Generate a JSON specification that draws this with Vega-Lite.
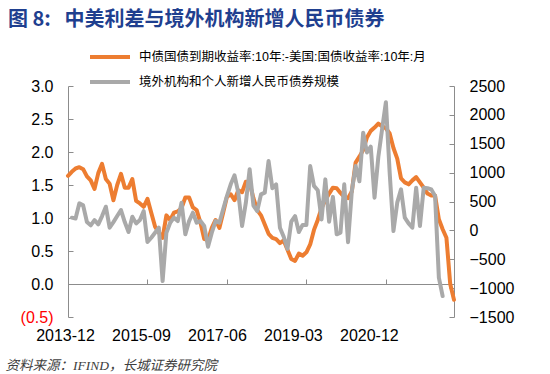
{
  "$schema": "https://vega.github.io/schema/vega-lite/v6.json",
  "width": 386,
  "height": 231,
  "autosize": {"type": "none"},
  "padding": {"left": 68, "top": 86, "right": 96, "bottom": 57},
  "background": "white",
  "title": {
    "text": "图 8:\u00a0\u00a0\u00a0中美利差与境外机构新增人民币债券",
    "anchor": "start",
    "frame": "group",
    "dx": -60,
    "offset": 16,
    "fontSize": 20,
    "font": "Noto Sans CJK SC",
    "fontWeight": "bold",
    "color": "#1F3F8F"
  },
  "data": {
    "values": [
      {"m": "2013-12", "spread": 1.64},
      {"m": "2014-01", "spread": 1.70, "flow": 220},
      {"m": "2014-02", "spread": 1.75, "flow": 205},
      {"m": "2014-03", "spread": 1.77, "flow": 468},
      {"m": "2014-04", "spread": 1.74, "flow": 433},
      {"m": "2014-05", "spread": 1.63, "flow": 144},
      {"m": "2014-06", "spread": 1.57, "flow": 87},
      {"m": "2014-07", "spread": 1.44, "flow": 179},
      {"m": "2014-08", "spread": 1.68, "flow": 104},
      {"m": "2014-09", "spread": 1.82, "flow": 248},
      {"m": "2014-10", "spread": 1.59, "flow": 410},
      {"m": "2014-11", "spread": 1.52, "flow": 47},
      {"m": "2014-12", "spread": 1.27, "flow": 144},
      {"m": "2015-01", "spread": 1.50, "flow": 248},
      {"m": "2015-02", "spread": 1.67, "flow": 352},
      {"m": "2015-03", "spread": 1.46, "flow": 144},
      {"m": "2015-04", "spread": 1.46, "flow": -29},
      {"m": "2015-05", "spread": 1.59, "flow": 237},
      {"m": "2015-06", "spread": 1.26, "flow": 121},
      {"m": "2015-07", "spread": 1.22, "flow": 179},
      {"m": "2015-08", "spread": 1.17, "flow": 334},
      {"m": "2015-09", "spread": 1.29, "flow": -202},
      {"m": "2015-10", "spread": 1.08, "flow": -127},
      {"m": "2015-11", "spread": 0.87, "flow": -40},
      {"m": "2015-12", "spread": 0.78, "flow": 47},
      {"m": "2016-01", "spread": 0.70, "flow": -878},
      {"m": "2016-02", "spread": 1.04, "flow": -40},
      {"m": "2016-03", "spread": 0.97, "flow": 133},
      {"m": "2016-04", "spread": 1.08, "flow": 220},
      {"m": "2016-05", "spread": 1.10, "flow": 161},
      {"m": "2016-06", "spread": 1.15, "flow": 480},
      {"m": "2016-07", "spread": 1.31, "flow": -69},
      {"m": "2016-08", "spread": 1.31, "flow": 161},
      {"m": "2016-09", "spread": 1.16, "flow": 306},
      {"m": "2016-10", "spread": 1.12, "flow": 133},
      {"m": "2016-11", "spread": 0.93, "flow": 161},
      {"m": "2016-12", "spread": 0.68, "flow": 75},
      {"m": "2017-01", "spread": 0.67, "flow": -282},
      {"m": "2017-02", "spread": 0.85, "flow": -40},
      {"m": "2017-03", "spread": 0.97, "flow": 161},
      {"m": "2017-04", "spread": 0.85, "flow": 133},
      {"m": "2017-05", "spread": 1.08, "flow": 364},
      {"m": "2017-06", "spread": 1.32, "flow": 594},
      {"m": "2017-07", "spread": 1.36, "flow": 797},
      {"m": "2017-08", "spread": 1.27, "flow": 953},
      {"m": "2017-09", "spread": 1.42, "flow": 653},
      {"m": "2017-10", "spread": 1.39, "flow": 75},
      {"m": "2017-11", "spread": 1.55, "flow": 480},
      {"m": "2017-12", "spread": 1.53, "flow": 1060},
      {"m": "2018-01", "spread": 1.30, "flow": 430},
      {"m": "2018-02", "spread": 1.12, "flow": 334},
      {"m": "2018-03", "spread": 1.04, "flow": 624},
      {"m": "2018-04", "spread": 0.90, "flow": 653},
      {"m": "2018-05", "spread": 0.76, "flow": 1200},
      {"m": "2018-06", "spread": 0.70, "flow": 730},
      {"m": "2018-07", "spread": 0.68, "flow": 797},
      {"m": "2018-08", "spread": 0.62, "flow": 47},
      {"m": "2018-09", "spread": 0.66, "flow": -110},
      {"m": "2018-10", "spread": 0.52, "flow": -320},
      {"m": "2018-11", "spread": 0.38, "flow": 150},
      {"m": "2018-12", "spread": 0.35, "flow": 248},
      {"m": "2019-01", "spread": 0.46, "flow": -29},
      {"m": "2019-02", "spread": 0.43, "flow": 95},
      {"m": "2019-03", "spread": 0.48, "flow": 95},
      {"m": "2019-04", "spread": 0.60, "flow": 1114},
      {"m": "2019-05", "spread": 0.82, "flow": 770},
      {"m": "2019-06", "spread": 0.97, "flow": 695},
      {"m": "2019-07", "spread": 1.15, "flow": 190},
      {"m": "2019-08", "spread": 1.27, "flow": 883},
      {"m": "2019-09", "spread": 1.37, "flow": 150},
      {"m": "2019-10", "spread": 1.46, "flow": 580},
      {"m": "2019-11", "spread": 1.45, "flow": -69},
      {"m": "2019-12", "spread": 1.38, "flow": -40},
      {"m": "2020-01", "spread": 1.32, "flow": 797},
      {"m": "2020-02", "spread": 1.30, "flow": -205},
      {"m": "2020-03", "spread": 1.40, "flow": 680},
      {"m": "2020-04", "spread": 1.84, "flow": 1114},
      {"m": "2020-05", "spread": 1.93, "flow": 850},
      {"m": "2020-06", "spread": 2.03, "flow": 1692},
      {"m": "2020-07", "spread": 2.22, "flow": 1350},
      {"m": "2020-08", "spread": 2.32, "flow": 1450},
      {"m": "2020-09", "spread": 2.37, "flow": 566},
      {"m": "2020-10", "spread": 2.43, "flow": 1270},
      {"m": "2020-11", "spread": 2.39, "flow": 1750},
      {"m": "2020-12", "spread": 2.36, "flow": 2220},
      {"m": "2021-01", "spread": 2.28, "flow": 999},
      {"m": "2021-02", "spread": 2.06, "flow": -12},
      {"m": "2021-03", "spread": 1.90, "flow": 480},
      {"m": "2021-04", "spread": 1.60, "flow": 710},
      {"m": "2021-05", "spread": 1.54, "flow": 220},
      {"m": "2021-06", "spread": 1.51, "flow": 120},
      {"m": "2021-07", "spread": 1.57, "flow": 47},
      {"m": "2021-08", "spread": 1.62, "flow": 740},
      {"m": "2021-09", "spread": 1.54, "flow": 75},
      {"m": "2021-10", "spread": 1.46, "flow": 740},
      {"m": "2021-11", "spread": 1.37, "flow": 730},
      {"m": "2021-12", "spread": 1.34, "flow": 710},
      {"m": "2022-01", "spread": 1.34, "flow": 594},
      {"m": "2022-02", "spread": 0.98, "flow": -819},
      {"m": "2022-03", "spread": 0.83, "flow": -1138},
      {"m": "2022-04", "spread": 0.70},
      {"m": "2022-05", "spread": 0.00},
      {"m": "2022-06", "spread": -0.24}
    ]
  },
  "encoding": {
    "x": {
      "field": "m",
      "type": "ordinal",
      "sort": null,
      "scale": {"type": "point", "padding": 0},
      "axis": {
        "values": ["2013-12", "2015-09", "2017-06", "2019-03", "2020-12"],
        "labelAngle": 0,
        "offset": -33,
        "labelPadding": 48,
        "labelBaseline": "top",
        "labelOffset": {
          "condition": [
            {"test": "datum.value === '2013-12'", "value": -3},
            {"test": "datum.value === '2015-09'", "value": -6.5},
            {"test": "datum.value === '2017-06'", "value": -10},
            {"test": "datum.value === '2019-03'", "value": -13.5}
          ],
          "value": -17
        },
        "title": "资料来源：IFIND，长城证券研究院",
        "titleX": -63,
        "titleY": 81,
        "titleAlign": "left",
        "titleBaseline": "middle",
        "titleFont": "Liberation Serif, Noto Sans CJK SC",
        "titleFontStyle": "italic",
        "titleFontWeight": "normal",
        "titleFontSize": 13.5,
        "titleColor": "#404040"
      }
    }
  },
  "layer": [
    {
      "mark": {"type": "line", "strokeWidth": 4, "strokeJoin": "round", "strokeCap": "round"},
      "encoding": {
        "y": {
          "field": "spread",
          "type": "quantitative",
          "scale": {"domain": [-0.5, 3], "nice": false, "zero": false},
          "axis": {
            "orient": "left",
            "title": null,
            "values": [-0.5, 0, 0.5, 1, 1.5, 2, 2.5, 3],
            "labelPadding": 20,
            "labelExpr": "datum.value < 0 ? '(' + format(-datum.value, '.1f') + ')' : format(datum.value, '.1f')",
            "labelColor": {"condition": {"test": "datum.value < 0", "value": "#FF0000"}, "value": "black"}
          }
        },
        "color": {
          "datum": "中债国债到期收益率:10年:-美国:国债收益率:10年:月",
          "type": "nominal",
          "scale": {
            "domain": ["中债国债到期收益率:10年:-美国:国债收益率:10年:月", "境外机构和个人新增人民币债券规模"],
            "range": ["#ED7D31", "#A9A9A9"]
          },
          "legend": {
            "title": null,
            "orient": "none",
            "legendX": 20,
            "legendY": -40,
            "symbolType": "stroke",
            "symbolSize": 1600,
            "symbolStrokeWidth": 4,
            "clipHeight": 22,
            "rowPadding": 3,
            "labelOffset": 7,
            "labelFontSize": 12.5,
            "labelFont": "Liberation Sans, Noto Sans CJK SC",
            "labelColor": "black",
            "labelLimit": 400
          }
        }
      }
    },
    {
      "mark": {"type": "line", "strokeWidth": 4, "strokeJoin": "round", "strokeCap": "round"},
      "encoding": {
        "y": {
          "field": "flow",
          "type": "quantitative",
          "scale": {"domain": [-1500, 2500], "nice": false, "zero": false},
          "axis": {
            "orient": "right",
            "title": null,
            "values": [-1500, -1000, -500, 0, 500, 1000, 1500, 2000, 2500],
            "format": "d",
            "labelPadding": 20
          }
        },
        "color": {"datum": "境外机构和个人新增人民币债券规模", "type": "nominal"}
      }
    }
  ],
  "resolve": {"scale": {"y": "independent"}},
  "config": {
    "view": {"stroke": null},
    "axis": {
      "grid": false,
      "domainColor": "#8C8C8C",
      "domainWidth": 1,
      "tickColor": "#8C8C8C",
      "tickSize": -5,
      "labelFont": "Liberation Sans",
      "labelFontSize": 16,
      "labelColor": "black"
    }
  }
}
